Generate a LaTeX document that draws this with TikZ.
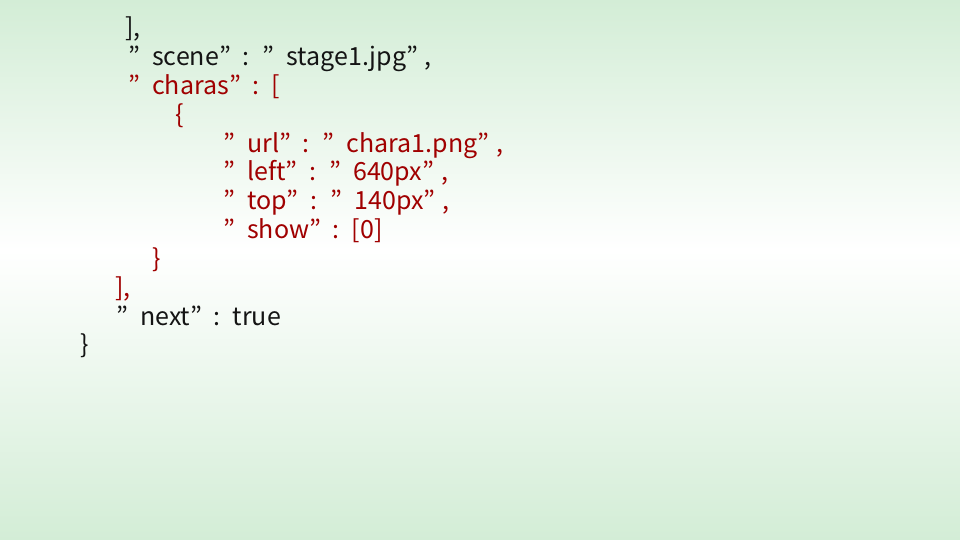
\documentclass[tikz,border=0pt]{standalone}
\usepackage{fontspec}
\setmainfont{Noto Sans CJK JP}
\definecolor{bggreen}{RGB}{211,237,214}
\definecolor{jsonred}{RGB}{160,0,0}
\definecolor{jsonblack}{RGB}{20,20,20}
% opening and closing quotes, key/value separator
\newcommand{\qo}{\makebox[1em][l]{\hspace{0.04em}”}}
\newcommand{\qc}{\makebox[0.45em][l]{”}}
\newcommand{\sep}{\makebox[1.25em]{:}}

\begin{document}
\begin{tikzpicture}[x=1pt, y=-1pt,
CodeLine/.style={anchor=base west, inner sep=0pt, text=jsonblack, font=\fontsize{25}{30}\selectfont},
KeyLine/.style={CodeLine, text=jsonred}]

\useasboundingbox (0,0) rectangle (960,540);
\shade[top color=bggreen, bottom color=white] (0,0) rectangle (960,250);
\shade[top color=white, bottom color=bggreen] (0,250) rectangle (960,540);

\node[CodeLine] (close1) at (125,37) {],};
\node[CodeLine] (scene) at (127,65.8) {\qo scene\qc\sep\qo stage1.jpg\qc\hspace{0.3em},};
\node[KeyLine] (charas) at (127,94.6) {\qo charas\qc\sep[};
\node[KeyLine] (open2) at (175,123.4) {\{};

\node[KeyLine] (url) at (222,152.2) {\qo url\qc\sep\qo chara1.png\qc\hspace{0.3em},};
\node[KeyLine] (left) at (222,181) {\qo left\qc\sep\qo 640px\qc\hspace{0.3em},};
\node[KeyLine] (top) at (222,209.8) {\qo top\qc\sep\qo 140px\qc\hspace{0.3em},};
\node[KeyLine] (show) at (222,238.6) {\qo show\qc\sep[0]};

\node[KeyLine] (close3) at (152,267.4) {\}};
\node[KeyLine] (close4) at (115,296.2) {],};
\node[CodeLine] (next) at (115,325) {\qo next\qc\sep true};
\node[CodeLine] (close5) at (80,353.8) {\}};

\end{tikzpicture}
\end{document}
